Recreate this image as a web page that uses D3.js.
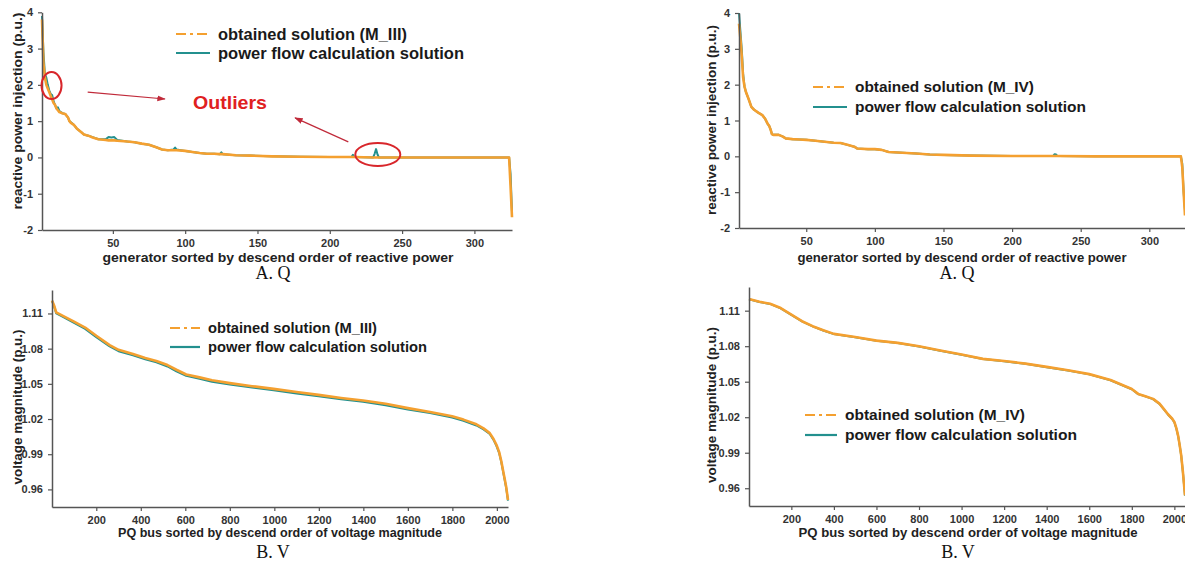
<!DOCTYPE html>
<html>
<head>
<meta charset="utf-8">
<script src="https://cdn.jsdelivr.net/npm/d3@7"></script>
<style>
  body { margin: 0; background: #fff; }
  svg { display: block; font-family: "Liberation Sans", Arial, sans-serif; }
  .tick text { font-weight: bold; fill: #333; }
</style>
</head>
<body>
<div id="chart"></div>
<script>
// ---- data ----
// A. Q, M_III
const qGenIII = [1,2,3,4,5,6,7,8,9,10,11,12,13,15,17,19,20,21,23,25,28,30,33,36,40,45,47,49,51,53,60,65,70,75,80,84,88,92,93,94,100,105,110,115,120,124,125,126,135,145,160,180,200,215,216,217,230,231,232,233,234,250,280,300,322,323,324,325,326];
const qObtainedIII = [3.8,2.6,2.2,2.0,1.9,1.8,1.7,1.6,1.5,1.45,
  1.35,1.3,1.25,1.22,1.2,1.1,1.0,0.95,0.9,0.8,
  0.7,0.63,0.6,0.55,0.5,0.48,0.47,0.47,0.47,0.46,
  0.44,0.42,0.38,0.35,0.28,0.22,0.2,0.2,0.2,0.2,
  0.18,0.15,0.12,0.1,0.1,0.09,0.09,0.09,0.06,0.05,
  0.03,0.02,0.01,0.01,0.01,0.01,0,0,0,0,
  0,0,0,0,0,0,0,-0.8,-1.65];
const qFlowIII = [3.9,2.9,2.3,2.2,2.0,1.85,1.75,1.72,1.55,1.45,
  1.35,1.38,1.28,1.22,1.2,1.1,1.0,0.97,0.9,0.8,
  0.7,0.63,0.6,0.56,0.5,0.5,0.56,0.55,0.56,0.48,
  0.44,0.42,0.38,0.35,0.28,0.22,0.2,0.22,0.27,0.22,
  0.18,0.15,0.12,0.1,0.1,0.09,0.14,0.09,0.06,0.05,
  0.03,0.02,0.01,0.01,0.07,0.01,0,0.1,0.23,0.08,
  0,0,0,0,0,0,0,-0.45,-1.5];

// A. Q, M_IV
const qGenIV = [1,2,3,4,5,6,8,10,12,15,18,20,22,23,24,25,26,30,33,35,40,45,50,55,60,65,70,75,80,85,87,95,100,105,110,120,130,140,150,170,200,229,230,231,232,233,260,300,323,324,325,326];
const qObtainedIV = [3.7,3.3,2.8,2.2,1.95,1.8,1.6,1.38,1.3,1.22,
  1.15,1.05,0.9,0.85,0.75,0.62,0.6,0.6,0.55,0.5,
  0.48,0.47,0.46,0.44,0.42,0.4,0.38,0.37,0.32,0.27,
  0.22,0.2,0.2,0.18,0.12,0.1,0.08,0.05,0.04,0.02,
  0.01,0.01,0.01,0.01,0.01,0.01,0,0,0,-0.3,
  -1.0,-1.65];
const qFlowIV = [4.0,3.5,3.0,2.3,1.95,1.8,1.6,1.38,1.3,1.22,
  1.15,1.05,0.9,0.85,0.75,0.62,0.6,0.6,0.55,0.5,
  0.48,0.47,0.46,0.44,0.42,0.4,0.38,0.37,0.32,0.27,
  0.22,0.2,0.2,0.18,0.12,0.1,0.08,0.05,0.04,0.02,
  0.01,0.01,0.01,0.06,0.05,0.01,0,0,0,-0.2,
  -1.0,-1.5];

// B. V, M_III
const vBusIII = [1,10,20,50,100,150,200,260,300,365,420,470,520,560,604,664,720,800,900,997,1100,1199,1300,1399,1500,1600,1700,1799,1850,1908,1940,1968,1985,1998,2010,2020,2028,2035,2042,2050];
const vObtainedIII = [1.121,1.117,1.111,1.108,1.103,1.098,1.091,1.083,1.079,1.0755,
  1.072,1.0695,1.066,1.062,1.058,1.0555,1.053,1.0506,1.048,1.0457,
  1.043,1.0406,1.038,1.0358,1.033,1.0293,1.026,1.0223,1.0195,1.0155,
  1.012,1.008,1.003,0.998,0.992,0.984,0.976,0.969,0.962,0.951];
const vFlowIII = [1.1207,1.1163,1.1101,1.1071,1.1019,1.0968,1.0898,1.0819,1.0778,1.0743,
  1.0709,1.0683,1.0648,1.0606,1.0568,1.0543,1.0518,1.0494,1.0468,1.0445,
  1.0418,1.0394,1.0368,1.0347,1.0318,1.0282,1.0251,1.0213,1.0185,1.0145,
  1.0111,1.0072,1.0022,0.9972,0.9912,0.9832,0.9752,0.9682,0.9612,0.9505];

// B. V, M_IV
const vBusIV = [1,50,100,150,200,250,300,350,400,500,600,700,800,900,1000,1100,1200,1300,1400,1500,1600,1700,1800,1830,1860,1900,1930,1950,1970,1990,2000,2010,2018,2025,2032,2040,2045,2050];
const vObtainedIV = [1.1198,1.1175,1.1159,1.1122,1.1066,1.1011,1.0969,1.0935,1.0904,1.0878,
  1.0847,1.0828,1.08,1.0763,1.073,1.0693,1.0675,1.0653,1.0625,1.0597,
  1.0564,1.0514,1.0438,1.0397,1.038,1.0355,1.0315,1.0271,1.0225,1.0187,
  1.016,1.0103,1.004,0.9964,0.988,0.974,0.964,0.954];
const vFlowIV = [1.1196,1.1173,1.1157,1.112,1.1064,1.1009,1.0967,1.0933,1.0902,1.0876,
  1.0845,1.0826,1.0798,1.0761,1.0728,1.0691,1.0673,1.0651,1.0623,1.0595,
  1.0562,1.0512,1.0436,1.0395,1.0378,1.0353,1.0313,1.0269,1.0223,1.0185,
  1.0158,1.0101,1.0038,0.9962,0.9878,0.9738,0.9638,0.9538];

const qTicksX = [50,100,150,200,250,300];
const qTicksY = [-2,-1,0,1,2,3,4];
const vTicksX = [200,400,600,800,1000,1200,1400,1600,1800,2000];
const vTicksY = [0.96,0.99,1.02,1.05,1.08,1.11];

const orange = "#f4a030";
const teal = "#23908e";
const annoRed = "#d8262b";

const width = 1185, height = 561;
const svg = d3.select("#chart").append("svg")
  .attr("width", width)
  .attr("height", height);

function drawPanel(cfg) {
  const x = d3.scaleLinear().domain(cfg.xDomain).range([cfg.left, cfg.right]);
  const y = d3.scaleLinear().domain(cfg.yDomain).range([cfg.bottom, cfg.top]);
  const g = svg.append("g");

  // lines: reference solution underneath, obtained solution on top
  const rowsFlow = cfg.xs.map((d, i) => [d, cfg.flow[i]]);
  const rowsObt = cfg.xs.map((d, i) => [d, cfg.obtained[i]]);
  const line = d3.line().x(d => x(d[0])).y(d => y(d[1]));

  g.append("path").datum(rowsFlow)
    .attr("fill", "none").attr("stroke", teal)
    .attr("stroke-width", 2).attr("stroke-linejoin", "round")
    .attr("d", line);
  g.append("path").datum(rowsObt)
    .attr("fill", "none").attr("stroke", orange)
    .attr("stroke-width", 2.6).attr("stroke-linejoin", "round")
    .attr("d", line);

  // axes
  const xAxis = g.append("g")
    .attr("transform", `translate(0,${cfg.bottom})`)
    .call(d3.axisBottom(x).tickValues(cfg.ticksX).tickSize(4).tickSizeOuter(0).tickPadding(5)
      .tickFormat(d => String(d)));
  const yAxis = g.append("g")
    .attr("transform", `translate(${cfg.left},0)`)
    .call(d3.axisLeft(y).tickValues(cfg.ticksY).tickSize(4).tickSizeOuter(0).tickPadding(5)
      .tickFormat(cfg.yFormat));
  [xAxis, yAxis].forEach(a => {
    a.select(".domain").attr("stroke", "#555").attr("stroke-width", 1.5);
    a.selectAll(".tick line").attr("stroke", "#555").attr("stroke-width", 1.2);
    a.selectAll(".tick text").attr("font-size", 11);
  });

  // axis titles (stretched to the widths measured on the figure)
  g.append("text")
    .attr("x", cfg.xTitleX).attr("y", cfg.xTitleY)
    .attr("text-anchor", "middle")
    .attr("font-size", 13).attr("font-weight", "bold").attr("fill", "#222")
    .attr("textLength", cfg.xTitleLen).attr("lengthAdjust", "spacingAndGlyphs")
    .text(cfg.xTitle);
  g.append("text")
    .attr("transform", `translate(${cfg.yTitleX},${cfg.yTitleY}) rotate(-90)`)
    .attr("text-anchor", "middle")
    .attr("font-size", 13).attr("font-weight", "bold").attr("fill", "#222")
    .attr("textLength", cfg.yTitleLen).attr("lengthAdjust", "spacingAndGlyphs")
    .text(cfg.yTitle);
  g.append("text")
    .attr("x", cfg.capX).attr("y", cfg.capY)
    .attr("text-anchor", "middle")
    .attr("font-family", "'Liberation Serif', 'Times New Roman', serif")
    .attr("font-size", 18).attr("fill", "#111")
    .text(cfg.caption);

  // legend
  const lg = g.append("g").attr("transform", `translate(${cfg.legX},${cfg.legY})`);
  const items = [
    { label: cfg.legObtained, color: orange, dash: "10,4,3,4", w: 2, len: cfg.legLens[0] },
    { label: "power flow calculation solution", color: teal, dash: null, w: 2.2, len: cfg.legLens[1] }
  ];
  items.forEach((it, i) => {
    const yy = i * cfg.legGap;
    lg.append("line")
      .attr("x1", 0).attr("x2", cfg.legLine).attr("y1", yy).attr("y2", yy)
      .attr("stroke", it.color).attr("stroke-width", it.w)
      .attr("stroke-dasharray", it.dash);
    lg.append("text")
      .attr("x", cfg.legLine + 8).attr("y", yy)
      .attr("dy", "0.36em")
      .attr("font-size", cfg.legSize).attr("font-weight", "bold").attr("fill", "#1a1a1a")
      .attr("textLength", it.len).attr("lengthAdjust", "spacingAndGlyphs")
      .text(it.label);
  });

  return { x, y, g };
}

const qFmt = d => String(d);
const vFmt = d3.format(".2f");

// A. Q  (M_III)
const pA1 = drawPanel({
  left: 42, right: 512, top: 12.3, bottom: 230,
  xDomain: [1, 326], yDomain: [-2, 4],
  xs: qGenIII, obtained: qObtainedIII, flow: qFlowIII,
  ticksX: qTicksX, ticksY: qTicksY, yFormat: qFmt,
  xTitle: "generator sorted by descend order of reactive power", xTitleX: 278, xTitleY: 262, xTitleLen: 351,
  yTitle: "reactive power injection (p.u.)", yTitleX: 22, yTitleY: 111, yTitleLen: 197,
  caption: "A. Q", capX: 273, capY: 279,
  legObtained: "obtained solution (M_III)", legX: 176, legY: 34, legLine: 34, legGap: 19,
  legSize: 16, legLens: [189, 246]
});

// outlier annotations (data coordinates of panel A, M_III)
const outlierRings = [
  { gen: 7.6, q: 1.98, rx: 10, ry: 13.5 },
  { gen: 233.2, q: 0.08, rx: 22.5, ry: 11.5 }
];
const outlierArrows = [
  { from: [32.6, 1.8], to: [86, 1.61] },
  { from: [212.8, 0.43], to: [176, 1.09] }
];
svg.append("defs").append("marker")
  .attr("id", "arrowHead")
  .attr("viewBox", "0 0 10 10").attr("refX", 9).attr("refY", 5)
  .attr("markerWidth", 7).attr("markerHeight", 7)
  .attr("orient", "auto")
  .append("path").attr("d", "M0,1.5 L10,5 L0,8.5 Z").attr("fill", "#c02a3a");

outlierRings.forEach(r => {
  pA1.g.append("ellipse")
    .attr("cx", pA1.x(r.gen)).attr("cy", pA1.y(r.q))
    .attr("rx", r.rx).attr("ry", r.ry)
    .attr("fill", "none").attr("stroke", annoRed).attr("stroke-width", 2);
});
outlierArrows.forEach(a => {
  pA1.g.append("line")
    .attr("x1", pA1.x(a.from[0])).attr("y1", pA1.y(a.from[1]))
    .attr("x2", pA1.x(a.to[0])).attr("y2", pA1.y(a.to[1]))
    .attr("stroke", "#c02a3a").attr("stroke-width", 1.2)
    .attr("marker-end", "url(#arrowHead)");
});
pA1.g.append("text")
  .attr("x", pA1.x(131)).attr("y", pA1.y(1.33))
  .attr("text-anchor", "middle")
  .attr("font-size", 18).attr("font-weight", "bold").attr("fill", "#e0201f")
  .attr("textLength", 74).attr("lengthAdjust", "spacingAndGlyphs")
  .text("Outliers");

// A. Q  (M_IV)
drawPanel({
  left: 739, right: 1185, top: 13, bottom: 228,
  xDomain: [1, 326], yDomain: [-2, 4],
  xs: qGenIV, obtained: qObtainedIV, flow: qFlowIV,
  ticksX: qTicksX, ticksY: qTicksY, yFormat: qFmt,
  xTitle: "generator sorted by descend order of reactive power", xTitleX: 962, xTitleY: 262, xTitleLen: 329,
  yTitle: "reactive power injection (p.u.)", yTitleX: 716, yTitleY: 120, yTitleLen: 190,
  caption: "A. Q", capX: 957, capY: 279,
  legObtained: "obtained solution (M_IV)", legX: 813, legY: 87, legLine: 34, legGap: 20,
  legSize: 15, legLens: [179, 231]
});

// B. V  (M_III)
drawPanel({
  left: 52, right: 508, top: 290, bottom: 507,
  xDomain: [1, 2050], yDomain: [0.945, 1.13],
  xs: vBusIII, obtained: vObtainedIII, flow: vFlowIII,
  ticksX: vTicksX, ticksY: vTicksY, yFormat: vFmt,
  xTitle: "PQ bus sorted by descend order of voltage magnitude", xTitleX: 280, xTitleY: 537, xTitleLen: 324,
  yTitle: "voltage magnitude (p.u.)", yTitleX: 22, yTitleY: 407, yTitleLen: 155,
  caption: "B. V", capX: 273, capY: 558,
  legObtained: "obtained solution (M_III)", legX: 170, legY: 328, legLine: 30, legGap: 19,
  legSize: 14.5, legLens: [169, 219]
});

// B. V  (M_IV)
drawPanel({
  left: 749, right: 1185, top: 287, bottom: 506,
  xDomain: [1, 2050], yDomain: [0.945, 1.13],
  xs: vBusIV, obtained: vObtainedIV, flow: vFlowIV,
  ticksX: vTicksX, ticksY: vTicksY, yFormat: vFmt,
  xTitle: "PQ bus sorted by descend order of voltage magnitude", xTitleX: 968, xTitleY: 537, xTitleLen: 339,
  yTitle: "voltage magnitude (p.u.)", yTitleX: 716, yTitleY: 405, yTitleLen: 156,
  caption: "B. V", capX: 958, capY: 558,
  legObtained: "obtained solution (M_IV)", legX: 805, legY: 415, legLine: 32, legGap: 20,
  legSize: 15, legLens: [180, 232]
});
</script>
</body>
</html>
